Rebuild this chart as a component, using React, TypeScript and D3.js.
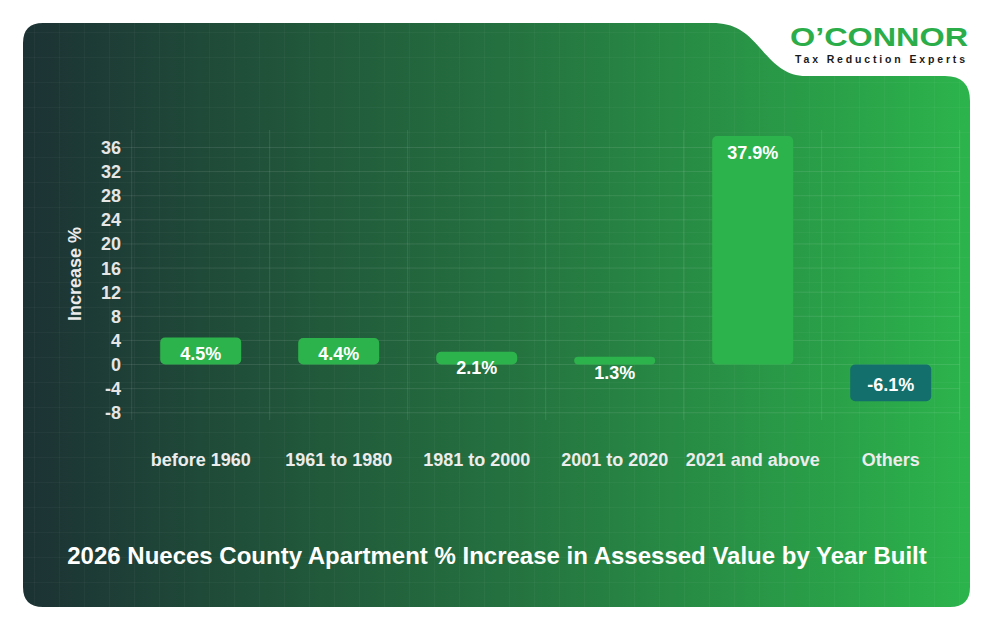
import React from "react";
import * as d3 from "d3";

const categories = ["before 1960", "1961 to 1980", "1981 to 2000", "2001 to 2020", "2021 and above", "Others"];
const increases = [4.5, 4.4, 2.1, 1.3, 37.9, -6.1];
const yTicks = [-8, -4, 0, 4, 8, 12, 16, 20, 24, 28, 32, 36];
const chartTitle = "2026 Nueces County Apartment % Increase in Assessed Value by Year Built";
const axisTitle = "Increase %";

const W = 994;
const H = 632;
const FONT = "'Liberation Sans', Arial, Helvetica, sans-serif";

// card outline with the tab cut out for the logo at top right
const cardPath = [
  "M 43,23",
  "L 712,23",
  "C 735,23 746,32 760,48",
  "C 775,65 786,76 806,76",
  "L 945,76",
  "Q 970,76 970,101",
  "L 970,587",
  "Q 970,607 950,607",
  "L 43,607",
  "Q 23,607 23,587",
  "L 23,43",
  "Q 23,23 43,23 Z",
].join(" ");

export default function App() {
  const x = d3.scaleBand<string>().domain(categories).range([131.7, 959.7]).padding(0);
  const y = d3.scaleLinear().domain([-9.2, 38.9]).range([420, 130]);
  const barW = x.bandwidth() * 0.587;
  const [top, bottom] = [y.range()[1], y.range()[0]];
  const [left, right] = x.range();
  const boundaries = d3.range(categories.length + 1).map((i) => left + i * x.step());

  return (
    <svg
      width={W}
      height={H}
      style={{ position: "absolute", left: 0, top: 0, background: "#fff" }}
      fontFamily={FONT}
    >
      <defs>
        <linearGradient id="cardFill" x1="0" y1="0" x2="1" y2="0">
          <stop offset="0" stopColor="#1c3234" />
          <stop offset="0.5" stopColor="#24703f" />
          <stop offset="1" stopColor="#2cb44c" />
        </linearGradient>
        <pattern id="texture" x="9" y="7" width="25" height="25" patternUnits="userSpaceOnUse">
          <path d="M 0.5,0 V 25 M 0,0.5 H 25" stroke="#fff" strokeOpacity={0.03} fill="none" />
        </pattern>
        <clipPath id="cardClip">
          <path d={cardPath} />
        </clipPath>
      </defs>

      <path d={cardPath} fill="url(#cardFill)" />
      <rect x={0} y={0} width={W} height={H} fill="url(#texture)" clipPath="url(#cardClip)" />

      {/* logo */}
      <text
        x={790}
        y={46}
        fontSize={26}
        fontWeight={900}
        fill="#2bae4a"
        textLength={178}
        lengthAdjust="spacingAndGlyphs"
      >
        O’CONNOR
      </text>
      <text
        x={795}
        y={63}
        fontSize={10.5}
        fontWeight={700}
        fill="#1a1a1a"
        textLength={170}
        lengthAdjust="spacing"
      >
        Tax Reduction Experts
      </text>

      {/* grid */}
      <g stroke="#ffffff" strokeOpacity={0.1} strokeWidth={1}>
        {yTicks.map((t) => (
          <line key={t} x1={left - 10} x2={right} y1={y(t)} y2={y(t)} />
        ))}
        {boundaries.map((b, i) => (
          <line key={i} x1={b} x2={b} y1={top} y2={bottom} />
        ))}
      </g>

      {/* y axis */}
      <g fontSize={18} fontWeight={700} fill="#e6e6e6" textAnchor="end">
        {yTicks.map((t) => (
          <text key={t} x={121} y={y(t)} dy="0.36em">
            {t}
          </text>
        ))}
      </g>
      <text
        transform={`translate(81,${(top + bottom) / 2 - 1}) rotate(-90)`}
        textAnchor="middle"
        fontSize={18}
        fontWeight={700}
        fill="#ececec"
      >
        {axisTitle}
      </text>

      {/* bars */}
      {categories.map((c, i) => {
        const v = increases[i];
        const cx = x(c)! + x.bandwidth() / 2;
        const y0 = y(0);
        const y1 = y(v);
        const h = Math.abs(y1 - y0);
        const labelY = v >= 0 ? y1 + 16 : y1 - 17;
        return (
          <g key={c}>
            <rect
              x={cx - barW / 2}
              y={Math.min(y0, y1)}
              width={barW}
              height={h}
              rx={Math.min(5, h / 2)}
              fill={v >= 0 ? "#2db34b" : "#136f6c"}
            />
            <text
              x={cx}
              y={labelY}
              dy="0.36em"
              textAnchor="middle"
              fontSize={18}
              fontWeight={700}
              fill="#ffffff"
            >
              {`${v}%`}
            </text>
          </g>
        );
      })}

      {/* category labels */}
      <g fontSize={18} fontWeight={700} fill="#ececec" textAnchor="middle">
        {categories.map((c) => (
          <text key={c} x={x(c)! + x.bandwidth() / 2} y={460} dy="0.36em">
            {c}
          </text>
        ))}
      </g>

      <text
        x={497}
        y={555}
        dy="0.36em"
        textAnchor="middle"
        fontSize={24}
        fontWeight={700}
        fill="#ffffff"
      >
        {chartTitle}
      </text>
    </svg>
  );
}
